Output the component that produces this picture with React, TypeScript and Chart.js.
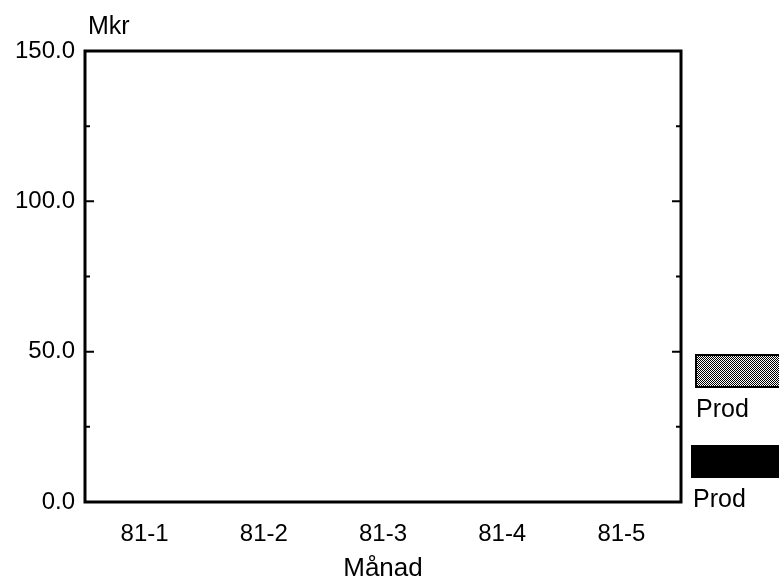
import React, { useEffect, useRef } from 'react';
import { Chart, registerables } from 'chart.js';

Chart.register(...registerables);

const categories = ['81-1', '81-2', '81-3', '81-4', '81-5'];
const seriesNames = ['Prod', 'Prod'];
const prodHatched = [0, 0, 0, 0, 0];
const prodSolid = [0, 0, 0, 0, 0];
const yMin = 0;
const yMax = 150;
const yMajorStep = 50;
const yMinorStep = 25;
const yUnit = 'Mkr';
const xTitle = 'Månad';

const FONT = '"Liberation Sans", Arial, Helvetica, sans-serif';

function makePattern(): CanvasPattern | string {
  const c = document.createElement('canvas');
  c.width = 4;
  c.height = 4;
  const g = c.getContext('2d');
  if (!g) return '#888';
  g.fillStyle = '#fff';
  g.fillRect(0, 0, 4, 4);
  g.fillStyle = '#000';
  g.fillRect(0, 0, 1, 1);
  g.fillRect(2, 0, 1, 1);
  g.fillRect(1, 1, 1, 1);
  g.fillRect(3, 1, 1, 1);
  g.fillRect(0, 2, 1, 1);
  g.fillRect(2, 2, 1, 1);
  g.fillRect(1, 3, 1, 1);
  g.fillRect(3, 3, 1, 1);
  const p = g.createPattern(c, 'repeat');
  return p || '#888';
}

export default function App() {
  const ref = useRef<HTMLCanvasElement | null>(null);

  useEffect(() => {
    document.body.style.margin = '0';
    const canvas = ref.current;
    if (!canvas) return;
    const pattern = makePattern();

    const framePlugin = {
      id: 'frameAndLegend',
      afterDraw(chart: any) {
        const { ctx, chartArea: a, scales } = chart;
        const y = scales.y;
        ctx.save();
        ctx.strokeStyle = '#000';
        ctx.lineWidth = 3;
        ctx.strokeRect(a.left, a.top, a.right - a.left, a.bottom - a.top);
        ctx.lineWidth = 2;
        for (let v = yMin + yMinorStep; v < yMax; v += yMinorStep) {
          const py = y.getPixelForValue(v);
          const len = v % yMajorStep === 0 ? 9 : 5;
          ctx.beginPath();
          ctx.moveTo(a.left, py);
          ctx.lineTo(a.left + len, py);
          ctx.moveTo(a.right - len, py);
          ctx.lineTo(a.right, py);
          ctx.stroke();
        }
        ctx.fillStyle = '#000';
        ctx.font = '25px ' + FONT;
        ctx.textAlign = 'left';
        ctx.textBaseline = 'alphabetic';
        ctx.fillText(yUnit, a.left + 3, a.top - 17);

        // legend
        const ds = chart.data.datasets;
        const lx = a.right + 15;
        ctx.fillStyle = ds[0].backgroundColor;
        ctx.fillRect(lx, a.top + 304, 120, 32);
        ctx.lineWidth = 2;
        ctx.strokeRect(lx, a.top + 304, 120, 32);
        ctx.fillStyle = '#000';
        ctx.font = '25px ' + FONT;
        ctx.fillText(ds[0].label, lx, a.top + 366);
        ctx.fillStyle = ds[1].backgroundColor;
        ctx.fillRect(lx - 5, a.top + 394, 120, 33);
        ctx.fillStyle = '#000';
        ctx.fillText(ds[1].label, lx - 3, a.top + 456);
        ctx.restore();
      },
    };

    const chart = new Chart(canvas, {
      type: 'bar',
      data: {
        labels: categories,
        datasets: [
          { label: seriesNames[0], data: prodHatched, backgroundColor: pattern as any, borderWidth: 0 },
          { label: seriesNames[1], data: prodSolid, backgroundColor: '#000', borderWidth: 0 },
        ],
      },
      options: {
        animation: false,
        responsive: false,
        maintainAspectRatio: false,
        layout: { padding: { left: 0, right: 98, top: 51, bottom: 0 } },
        plugins: { legend: { display: false }, tooltip: { enabled: false }, title: { display: false } },
        scales: {
          x: {
            grid: { display: false, drawTicks: false },
            border: { display: false },
            ticks: { color: '#000', font: { family: FONT, size: 24 }, padding: 18 },
            title: { display: true, text: xTitle, color: '#000', font: { family: FONT, size: 26 }, padding: { top: 4, bottom: 0 } },
            afterFit: (s: any) => { s.height = 82; },
          },
          y: {
            min: yMin,
            max: yMax,
            grid: { display: false, drawTicks: false },
            border: { display: false },
            ticks: {
              stepSize: yMajorStep,
              color: '#000',
              font: { family: FONT, size: 24 },
              padding: 10,
              callback: (v: any) => Number(v).toFixed(1),
            },
            afterFit: (s: any) => { s.width = 85; },
          },
        },
      },
      plugins: [framePlugin],
    });
    return () => chart.destroy();
  }, []);

  return (
    <div style={{ width: 779, height: 584, background: '#fff' }}>
      <canvas ref={ref} width={779} height={584} style={{ display: 'block' }} />
    </div>
  );
}
